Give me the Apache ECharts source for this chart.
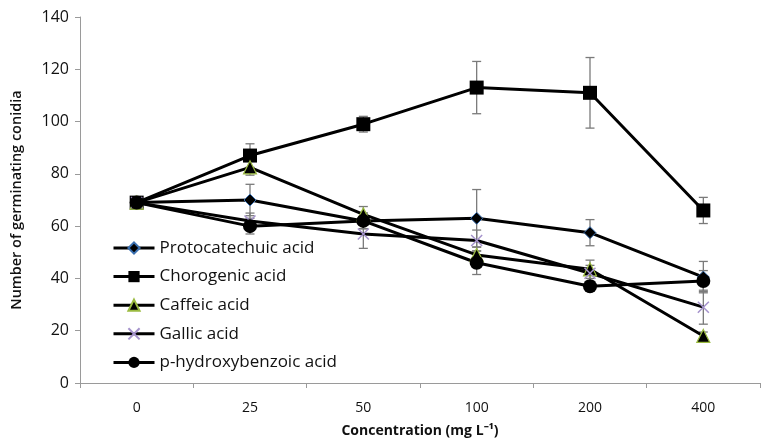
<!DOCTYPE html>
<html>
<head>
<meta charset="utf-8">
<script src="https://cdn.jsdelivr.net/npm/echarts@6/dist/echarts.min.js"></script>
<style>
html,body{margin:0;padding:0;background:#fff;}
#chart{width:766px;height:439px;}
</style>
</head>
<body>
<div id="chart"></div>
<script>
var categories = ['0', '25', '50', '100', '200', '400'];
var yTicks = [0, 20, 40, 60, 80, 100, 120, 140];

var seriesNames = ['Protocatechuic acid', 'Chorogenic acid', 'Caffeic acid', 'Gallic acid', 'p-hydroxybenzoic acid'];

var protocatechuic = [69, 70, 62, 63, 57.5, 40.5];
var chorogenic = [69, 87, 99, 113, 111, 66];
var caffeic = [69, 82.5, 64.5, 49, 43.5, 18];
var gallic = [69, 62, 57, 54.5, 42, 29];
var pHydroxy = [69, 60, 62, 46, 37, 39];

var protocatechuicErr = [2, 6, 3, 11, 5, 6];
var chorogenicErr = [2, 4.5, 3, 10, 13.5, 5];
var caffeicErr = [2, 3, 3, 3, 3.5, 1.5];
var gallicErr = [2, 3, 5.5, 4, 3, 6.5];
var pHydroxyErr = [2, 3, 3, 4.5, 1.5, 4];

var FONT = '"Open Sans", "Liberation Sans", sans-serif';

var chart = echarts.init(document.getElementById('chart'));

function errorSeries(vals, errs) {
  var data = vals.map(function (v, i) { return [i, v - errs[i], v + errs[i]]; });
  return {
    type: 'custom',
    silent: true,
    z: 1,
    legendHoverLink: false,
    data: data,
    renderItem: function (params, api) {
      var x = api.value(0);
      var lo = api.coord([x, api.value(1)]);
      var hi = api.coord([x, api.value(2)]);
      var w = 4.5;
      var st = { stroke: '#7a7a7a', lineWidth: 1.3 };
      return {
        type: 'group',
        children: [
          { type: 'line', shape: { x1: lo[0], y1: lo[1], x2: hi[0], y2: hi[1] }, style: st },
          { type: 'line', shape: { x1: lo[0] - w, y1: lo[1], x2: lo[0] + w, y2: lo[1] }, style: st },
          { type: 'line', shape: { x1: hi[0] - w, y1: hi[1], x2: hi[0] + w, y2: hi[1] }, style: st }
        ]
      };
    }
  };
}

function lineSeries(name, vals, symbol, size, itemStyle) {
  return {
    name: name,
    type: 'line',
    data: vals,
    symbol: symbol,
    symbolSize: size,
    showAllSymbol: true,
    z: 3,
    lineStyle: { color: '#000', width: 3 },
    itemStyle: itemStyle,
    emphasis: { disabled: true }
  };
}

var crossPath = 'path://M0,0L10,10M10,0L0,10';

var option = {
  animation: false,
  backgroundColor: '#fff',
  grid: { left: 80, right: 6, top: 17, bottom: 56, containLabel: false, outerBoundsMode: 'none' },
  legend: {
    orient: 'vertical',
    left: 112,
    top: 239.5,
    padding: 0,
    itemWidth: 41,
    itemHeight: 14,
    itemGap: 11.6,
    data: seriesNames,
    lineStyle: { width: 3, color: '#000' },
    textStyle: { fontFamily: FONT, fontSize: 17, color: '#111', lineHeight: 14 }
  },
  xAxis: {
    type: 'category',
    data: categories,
    boundaryGap: true,
    name: 'Concentration (mg L\u207B\u00B9)',
    nameLocation: 'middle',
    nameGap: 41,
    nameTextStyle: { fontFamily: FONT, fontSize: 14, fontWeight: 'bold', color: '#111' },
    axisLine: { lineStyle: { color: '#9a9a9a', width: 1 } },
    axisTick: { show: true, alignWithLabel: false, length: 5, lineStyle: { color: '#9a9a9a' } },
    axisLabel: { fontFamily: FONT, fontSize: 14, color: '#111', margin: 18 },
    splitLine: { show: false }
  },
  yAxis: {
    type: 'value',
    min: 0,
    max: 140,
    interval: 20,
    name: 'Number of germinating conidia',
    nameLocation: 'middle',
    nameGap: 56,
    nameTextStyle: { fontFamily: FONT, fontSize: 14.5, fontWeight: 600, color: '#111' },
    axisLine: { show: true, lineStyle: { color: '#9a9a9a', width: 1 } },
    axisTick: { show: true, length: 5, lineStyle: { color: '#9a9a9a' } },
    axisLabel: {
      fontFamily: FONT, fontSize: 16, color: '#111', margin: 11,
      formatter: function (v) { return yTicks.indexOf(v) >= 0 ? String(v) : ''; }
    },
    splitLine: { show: false }
  },
  series: [
    errorSeries(protocatechuic, protocatechuicErr),
    errorSeries(chorogenic, chorogenicErr),
    errorSeries(caffeic, caffeicErr),
    errorSeries(gallic, gallicErr),
    errorSeries(pHydroxy, pHydroxyErr),
    lineSeries(seriesNames[0], protocatechuic, 'diamond', 12, { color: '#000', borderColor: '#3a6fb0', borderWidth: 1 }),
    lineSeries(seriesNames[1], chorogenic, 'rect', 14, { color: '#000', borderColor: '#000', borderWidth: 0 }),
    lineSeries(seriesNames[2], caffeic, 'triangle', 13, { color: '#000', borderColor: '#9bbb40', borderWidth: 1.2 }),
    lineSeries(seriesNames[3], gallic, crossPath, 11, { color: 'transparent', borderColor: '#a593cc', borderWidth: 1.5 }),
    lineSeries(seriesNames[4], pHydroxy, 'circle', 14, { color: '#000', borderColor: '#000', borderWidth: 0 })
  ]
};

chart.setOption(option);
</script>
</body>
</html>
